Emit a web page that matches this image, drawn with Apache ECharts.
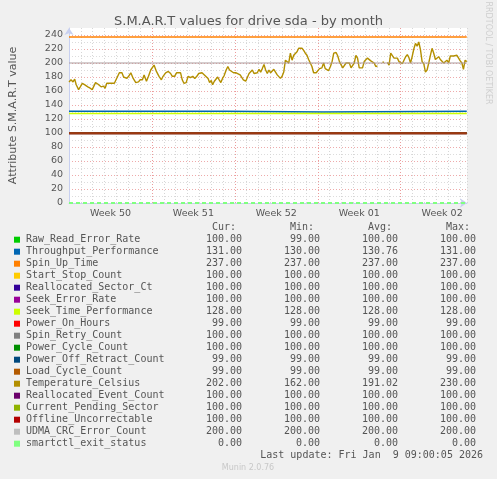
<!DOCTYPE html>
<html>
<head>
<meta charset="utf-8">
<script src="https://cdn.jsdelivr.net/npm/echarts@6/dist/echarts.min.js"></script>
<style>
html,body{margin:0;padding:0;background:#f0f0f0;}
#chart{width:497px;height:479px;}
</style>
</head>
<body>
<div id="chart"></div>
<script>
// attributes in munin draw order
const attrNames = ['Raw_Read_Error_Rate', 'Throughput_Performance', 'Spin_Up_Time', 'Start_Stop_Count',
  'Reallocated_Sector_Ct', 'Seek_Error_Rate', 'Seek_Time_Performance', 'Power_On_Hours', 'Spin_Retry_Count',
  'Power_Cycle_Count', 'Power_Off_Retract_Count', 'Load_Cycle_Count', 'Temperature_Celsius',
  'Reallocated_Event_Count', 'Current_Pending_Sector', 'Offline_Uncorrectable', 'UDMA_CRC_Error_Count',
  'smartctl_exit_status']
const curVals = [100, 131, 237, 100, 100, 100, 128, 99, 100, 100, 99, 99, 202, 100, 100, 100, 200, 0]
const minVals = [99, 130, 237, 100, 100, 100, 128, 99, 100, 100, 99, 99, 162, 100, 100, 100, 200, 0]
const avgVals = [100, 130.76, 237, 100, 100, 100, 128, 99, 100, 100, 99, 99, 191.02, 100, 100, 100, 200, 0]
const maxVals = [100, 131, 237, 100, 100, 100, 128, 99, 100, 100, 99, 99, 230, 100, 100, 100, 200, 0]

// x values are days since Mon Dec 8
const spanDays = [0, 33.58]
const throughputDays = [0, 13.24, 21.46, 33.58]
const throughputVals = [131, 130, 131, 131]

const tempDays = [
  0, 0.17, 0.34, 0.48, 0.61, 0.81, 0.95, 1.12, 1.31, 1.45,
  1.59, 1.79, 1.96, 2.10, 2.24, 2.43, 2.57, 2.71, 2.91, 3.05,
  3.19, 3.33, 3.55, 3.83, 3.97, 4.11, 4.25, 4.47, 4.61, 4.75,
  4.89, 5.03, 5.22, 5.42, 5.64, 5.87, 6.01, 6.20, 6.34, 6.54,
  6.71, 6.90, 7.04, 7.18, 7.38, 7.60, 7.80, 7.94, 8.16, 8.38,
  8.58, 8.72, 8.91, 9.08, 9.42, 9.56, 9.70, 9.89, 10.06, 10.25,
  10.45, 10.62, 10.79, 10.95, 11.23,
  11.32, 11.43, 11.59, 11.74, 11.87, 12.01, 12.12, 12.27, 12.41, 12.55,
  12.68, 12.82, 12.96, 13.10, 13.27, 13.41, 13.55, 13.69, 13.89, 14.11,
  14.25, 14.45, 14.59, 14.72, 14.92, 15.06, 15.20, 15.34, 15.48, 15.62,
  15.76, 15.90, 16.04, 16.18, 16.32, 16.46, 16.60, 16.74, 16.88, 17.02,
  17.16, 17.29, 17.44, 17.58, 17.72, 17.85, 17.99, 18.13, 18.27, 18.41,
  18.55, 18.69, 18.83, 18.97, 19.11, 19.25, 19.39, 19.53, 19.67, 19.81,
  19.95, 20.09, 20.23, 20.37, 20.51, 20.65, 20.87, 21.01, 21.15, 21.35,
  21.49, 21.63, 21.77, 21.91, 22.07, 22.21, 22.35, 22.55,
  22.69, 22.83, 22.97, 23.11, 23.25, 23.39, 23.53, 23.67, 23.81, 23.94,
  24.08, 24.22, 24.36, 24.50, 24.64, 24.78, 24.92, 25.06, 25.20, 25.34,
  25.48, 25.62, 25.76, 25.90, 26.04, 26.25, 26.46, 26.60, 26.74, 26.88,
  27.02, 27.16, 27.30, 27.44, 27.58, 27.72, 27.86, 28.00, 28.14, 28.28,
  28.42, 28.56, 28.69, 28.83, 28.97, 29.11, 29.25, 29.39, 29.53, 29.67,
  29.81, 29.95, 30.09, 30.23, 30.37, 30.51, 30.65, 30.79, 30.93, 31.07,
  31.21, 31.35, 31.49, 31.63, 31.77, 31.91, 32.05, 32.19, 32.33, 32.47,
  32.61, 32.75, 32.89, 33.03, 33.17, 33.30, 33.44, 33.58
]
const tempVals = [
  173, 176, 173, 177, 169, 162, 166, 171, 169, 170,
  166, 164, 162, 164, 172, 170, 169, 166, 167, 164,
  171, 172, 171, 171, 171, 181, 186, 186, 180, 181,
  178, 181, 186, 178, 172, 173, 176, 176, 183, 174,
  181, 190, 191, 197, 188, 181, 176, 181, 186, 188,
  185, 181, 181, 186, 186, 176, 171, 172, 181, 179,
  181, 178, 181, 185, 186,
  187, 183, 184, 178, 172, 175, 169, 174, 176, 180,
  176, 172, 178, 182, 190, 195, 190, 188, 186, 186,
  186, 183, 181, 176, 174, 175, 185, 186, 190, 185,
  183, 186, 191, 187, 192, 198, 190, 185, 190, 186,
  187, 191, 190, 183, 181, 178, 181, 187, 204, 206,
  200, 214, 204, 211, 209, 216, 221, 223, 221, 218,
  214, 211, 205, 200, 195, 186, 186, 186, 192, 193,
  200, 192, 191, 189, 195, 202, 214, 215,
  210, 202, 201, 193, 195, 200, 198, 200, 193, 195,
  200, 211, 207, 193, 194, 193, 202, 201, 207, 209,
  203, 201, 200, 195, 196, null, 201, 201, null, 201,
  197, 214, 216, 207, 206, 207, 202, 200, 199, 204,
  209, 212, 208, 200, 209, 220, 228, 224, 230, 219,
  202, 199, 187, 190, 200, 211, 221, 214, 205, 207,
  209, 205, 207, 200, 200, 204, 200, 210, 211, 210,
  209, 211, 207, 203, 200, 191, 204, 202
]

const weekLabels = ['Week 50', 'Week 51', 'Week 52', 'Week 01', 'Week 02']
const lastUpdate = 'Last update: Fri Jan  9 09:00:05 2026'

// munin palette
const attrColors = ['#00CC00', '#0066B3', '#FF8000', '#FFCC00', '#330099', '#990099', '#CCFF00', '#FF0000',
  '#808080', '#008F00', '#00487D', '#B35A00', '#B38F00', '#6B006B', '#8FB300', '#B30000', '#BEBEBE', '#80FF80']

const textColor = '#555'
const mono = 'DejaVu Sans Mono'
const sans = 'DejaVu Sans'
const xMax = 33.6

const series = attrNames.map((name, i) => {
  let data
  if (name === 'Throughput_Performance') data = throughputDays.map((d, k) => [d, throughputVals[k]])
  else if (name === 'Temperature_Celsius') data = tempDays.map((d, k) => [d, tempVals[k]])
  else data = spanDays.map(d => [d, curVals[i]])
  const ls = { color: attrColors[i], width: 1.5 }
  if (curVals[i] === 100 || curVals[i] === 99) ls.width = 1.1
  if (name === 'Temperature_Celsius') ls.width = 1.4
  if (name === 'UDMA_CRC_Error_Count') { ls.color = '#ab9c9e'; ls.width = 1.2 }
  if (name === 'smartctl_exit_status') { ls.width = 2; ls.type = [4, 3] }
  return {
    name, type: 'line', data, symbol: 'none', showSymbol: false,
    step: name === 'Throughput_Performance' ? 'end' : false,
    connectNulls: false, xAxisIndex: 0, yAxisIndex: 0,
    lineStyle: ls, emphasis: { disabled: true }
  }
})

// legend block drawn as text
const graphics = []
const rowY0 = 239.7, rowStep = 12
const colRight = [242, 320, 398, 476]
const headers = ['Cur:', 'Min:', 'Avg:', 'Max:']
headers.forEach((h, c) => {
  graphics.push({ type: 'text', x: colRight[c] - 6, y: 227.5,
    style: { text: h, font: '10px ' + mono, fill: textColor, align: 'right', verticalAlign: 'middle' } })
})
attrNames.forEach((name, i) => {
  const y = rowY0 + i * rowStep
  graphics.push({ type: 'rect', shape: { x: 14, y: y - 3, width: 6, height: 6 }, style: { fill: attrColors[i] } })
  graphics.push({ type: 'text', x: 26, y,
    style: { text: name, font: '10px ' + mono, fill: textColor, verticalAlign: 'middle' } })
  ;[curVals, minVals, avgVals, maxVals].forEach((arr, c) => {
    graphics.push({ type: 'text', x: colRight[c], y,
      style: { text: arr[i].toFixed(2), font: '10px ' + mono, fill: textColor, align: 'right', verticalAlign: 'middle' } })
  })
})
graphics.push({ type: 'text', x: 483, y: 455.7,
  style: { text: lastUpdate, font: '10px ' + mono, fill: textColor, align: 'right', verticalAlign: 'middle' } })
graphics.push({ type: 'text', x: 248, y: 467.5,
  style: { text: 'Munin 2.0.76', font: '8px ' + sans, fill: '#c8c8c8', align: 'center', verticalAlign: 'middle' } })
graphics.push({ type: 'text', x: 488, y: 53, rotation: -Math.PI / 2,
  style: { text: 'RRDTOOL / TOBI OETIKER', font: '8px ' + sans, fill: '#cfcfcf', align: 'center', verticalAlign: 'middle' } })

const chart = echarts.init(document.getElementById('chart'))
chart.setOption({
  animation: false,
  backgroundColor: '#f0f0f0',
  title: {
    text: 'S.M.A.R.T values for drive sda - by month', left: 'center', top: 10,
    textStyle: { fontFamily: sans, fontSize: 13, fontWeight: 'normal', color: textColor }
  },
  grid: { left: 66, top: 28, width: 401, height: 175, show: true, backgroundColor: '#fff', borderWidth: 0 },
  xAxis: [
    { type: 'value', position: 'bottom', min: 0, max: xMax, interval: 1,
      axisLine: { show: true, onZero: false, symbol: ['none', 'arrow'], symbolSize: [7, 7], lineStyle: { color: '#c8d0f0' } },
      axisTick: { show: false }, axisLabel: { show: false },
      splitLine: { show: true, lineStyle: { color: '#d6d6d6', type: [1, 2] } } },
    { type: 'value', position: 'bottom', min: 0, max: xMax, interval: 7,
      axisLine: { show: false }, axisTick: { show: false }, axisLabel: { show: false },
      splitLine: { show: true, showMinLine: false, showMaxLine: false, lineStyle: { color: '#eb9c9c', type: [1, 2] } } },
    { type: 'value', position: 'bottom', min: 0, max: xMax, interval: 3.5,
      axisLine: { show: false }, axisTick: { show: false }, splitLine: { show: false },
      axisLabel: { margin: 6, fontFamily: sans, fontSize: 9.5, color: textColor,
        showMinLabel: false, showMaxLabel: false,
        formatter: v => {
          const k = (v - 3.5) / 7
          return Number.isInteger(k) && weekLabels[k] ? weekLabels[k] : ''
        } } }
  ],
  yAxis: [
    { type: 'value', position: 'left', min: 0, max: 250, interval: 10,
      name: 'Attribute S.M.A.R.T value', nameLocation: 'middle', nameGap: 50,
      nameTextStyle: { fontFamily: sans, fontSize: 11, color: textColor },
      axisLine: { show: true, onZero: false, symbol: ['none', 'arrow'], symbolSize: [7, 7], lineStyle: { color: '#c8d0f0' } },
      axisTick: { show: false }, axisLabel: { show: false },
      splitLine: { show: true, showMaxLine: false, lineStyle: { color: '#dcdcdc', type: [1, 2] } } },
    { type: 'value', position: 'left', min: 0, max: 250, interval: 20,
      axisLine: { show: false }, axisTick: { show: false },
      axisLabel: { margin: 6, fontFamily: sans, fontSize: 9.5, color: textColor, showMaxLabel: false },
      splitLine: { show: true, showMinLine: false, showMaxLine: false, lineStyle: { color: '#eeaaaa', type: [1, 2] } } }
  ],
  series,
  graphic: graphics
})
</script>
</body>
</html>
